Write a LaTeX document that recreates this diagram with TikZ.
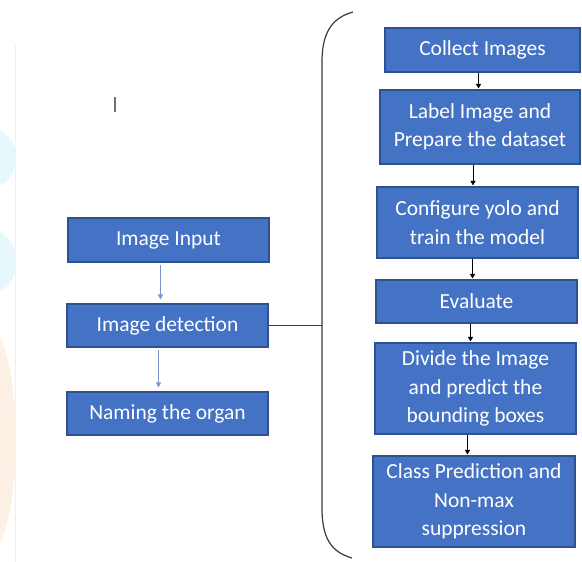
\documentclass[tikz,border=0pt]{standalone}
\usepackage{fontspec}
\setmainfont{Carlito}
\usetikzlibrary{arrows.meta}
\definecolor{boxblue}{HTML}{4472C4}
\definecolor{boxedge}{HTML}{2F528F}
\definecolor{flowblue}{HTML}{7A95C8}
\definecolor{bracegray}{HTML}{3A3A3A}
\definecolor{markcyan}{HTML}{E6F8FC}
\definecolor{markorange}{HTML}{FDF0E4}
\begin{document}
\begin{tikzpicture}[x=1pt,y=-1pt,
  stepbox/.style={draw=boxedge, line width=1.1pt, fill=boxblue, text=white,
    font=\fontsize{21.5}{28.5}\selectfont, align=center, inner sep=0pt,
    minimum width=201pt},
  flowarrow/.style={draw=flowblue, line width=0.8pt,
    -{Triangle[length=5pt,width=5pt]}},
  steparrow/.style={draw=black, line width=0.9pt,
    -{Triangle[length=4.5pt,width=5pt]}}]
\useasboundingbox (0,0) rectangle (582,562);
\fill[white] (0,0) rectangle (582,562);

% faint background marks on the left edge
\begin{scope}
  \clip (0,0) rectangle (16,562);
  \fill[markcyan] (-10,158) ellipse (26pt and 30pt);
  \fill[markcyan] (-10,262) ellipse (26pt and 32pt);
  \fill[markorange] (-20,440) ellipse (36pt and 125pt);
\end{scope}
\draw[black!6, line width=1pt] (15,45) -- (15,562);

% text cursor mark
\draw[black!55, line width=1.4pt] (115,97) -- (115,112);

% left flow
\node[stepbox, minimum height=44pt] (input) at (168.5,240) {Image Input};
\node[stepbox, minimum height=43pt] (detect) at (167.5,325.5) {Image detection};
\node[stepbox, minimum height=43pt] (organ) at (167.5,413.5) {Naming the organ};

\draw[flowarrow] ([xshift=-8pt,yshift=-2pt]input.south) -- ([xshift=-8pt,yshift=4pt]input.south |- detect.north);
\draw[flowarrow] ([xshift=-9pt,yshift=-2pt]detect.south) -- ([xshift=-9pt,yshift=4pt]detect.south |- organ.north);

% right flow
\node[stepbox, minimum width=195pt, minimum height=44pt] (collect) at (482.5,50) {Collect Images};
\node[stepbox, minimum width=200pt, minimum height=74pt] (label) at (480,127) {Label Image and\\Prepare the dataset};
\node[stepbox, minimum height=71pt] (config) at (477.5,222.5) {Configure yolo and\\train the model};
\node[stepbox, minimum height=43pt] (evaluate) at (476.5,301.5) {Evaluate};
\node[stepbox, minimum height=91pt] (divide) at (475.5,388.5) {Divide the Image\\and predict the\\bounding boxes};
\node[stepbox, minimum width=202pt, minimum height=91pt] (classpred) at (474,501.5) {Class Prediction and\\Non-max\\suppression};

\draw[steparrow] ([xshift=-4pt]collect.south) -- ([xshift=-4pt,yshift=1pt]collect.south |- label.north);
\draw[steparrow] ([xshift=-7pt]label.south) -- ([xshift=-7pt,yshift=1pt]label.south |- config.north);
\draw[steparrow] ([xshift=-5pt]config.south) -- ([xshift=-5pt,yshift=1pt]config.south |- evaluate.north);
\draw[steparrow] ([xshift=-6pt]evaluate.south) -- ([xshift=-6pt,yshift=1pt]evaluate.south |- divide.north);
\draw[steparrow] ([xshift=-8pt]divide.south) -- ([xshift=-8pt,yshift=1pt]divide.south |- classpred.north);

% bracket grouping the detection steps
\coordinate (bracemid) at (322,325.5);
\draw[bracegray, line width=1.2pt]
  (353,12) .. controls (331,18) and (322,34) .. (322,62)
  -- (322,508) .. controls (322,538) and (331,552) .. (352,558);
\draw[bracegray, line width=1.1pt] (detect.east) -- (bracemid);
\end{tikzpicture}
\end{document}
